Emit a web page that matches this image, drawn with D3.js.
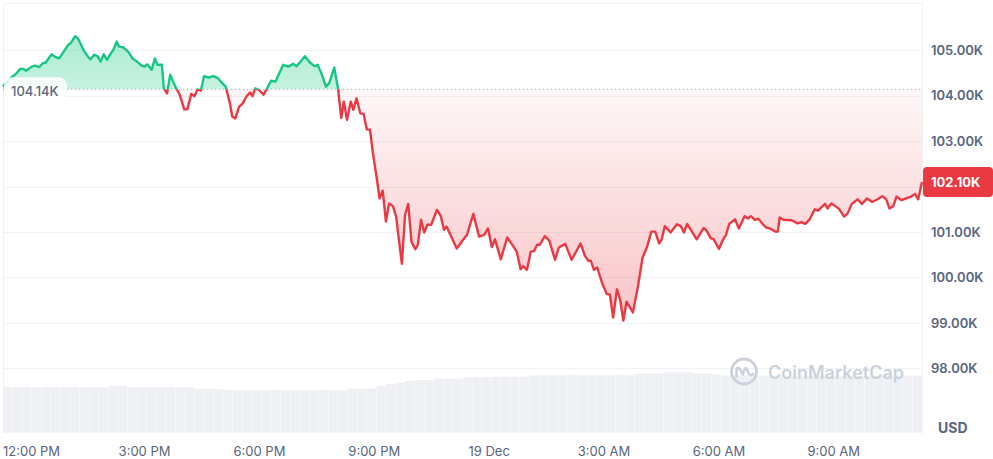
<!DOCTYPE html>
<html>
<head>
<meta charset="utf-8">
<script src="https://cdn.jsdelivr.net/npm/d3@7/dist/d3.min.js"></script>
<style>
html,body{margin:0;padding:0;background:#ffffff;}
svg{display:block;font-family:Inter,"Noto Sans",sans-serif;}
</style>
</head>
<body>
<svg id="chart" width="993" height="459"></svg>
<script>
// ---------------- DATA ----------------
const startDay = [2024, 11, 18];           // 18 Dec 2024
const rangeStart = "11:19";                 // 24h window start
const times = [
"11:19","11:28","11:40","11:46","11:51","11:55","12:04","12:09","12:16","12:21",
"12:26","12:35","12:40","12:47","12:56","13:01","13:05","13:12","13:17","13:25",
"13:31","13:36","13:42","13:47","13:52","13:57","14:02","14:08","14:12","14:17",
"14:21","14:28","14:35","14:42","14:49","14:56","15:01","15:05","15:12","15:17",
"15:21","15:28","15:31","15:36","15:41","15:49","15:56","16:03","16:08","16:14",
"16:19","16:24","16:29","16:34","16:41","16:49","16:56","17:03","17:08","17:15",
"17:18","17:23","17:29","17:34","17:41","17:46","17:50","17:54","18:00","18:07",
"18:12","18:19","18:26","18:38","18:46","18:54","18:59","19:04","19:12","19:20",
"19:27","19:32","19:38","19:45","19:50","19:58","20:04","20:09","20:13","20:18",
"20:24","20:28","20:33","20:39","20:44","20:49","20:54","20:59","21:05","21:09",
"21:14","21:19","21:24","21:30","21:35","21:44","21:49","21:54","21:59","22:05",
"22:09","22:14","22:19","22:24","22:30","22:39","22:45","22:50","22:54","23:10",
"23:20","23:26","23:36","23:45","23:53","23:59","00:05","00:10","00:19","00:29",
"00:36","00:44","00:50","00:54","01:00","01:06","01:11","01:16","01:20","01:28",
"01:35","01:44","01:50","02:00","02:10","02:24","02:31","02:36","02:40","02:45",
"02:50","02:58","03:05","03:10","03:15","03:21","03:26","03:31","03:36","03:46",
"03:54","04:01","04:08","04:15","04:21","04:27","04:31","04:36","04:45","04:55",
"05:01","05:06","05:11","05:26","05:37","05:42","05:48","05:52","06:01","06:07",
"06:12","06:17","06:26","06:32","06:41","06:46","06:51","06:57","07:03","07:09",
"07:15","07:21","07:29","07:33","07:36","07:42","07:55","08:04","08:10","08:16",
"08:23","08:31","08:36","08:47","08:51","08:57","09:03","09:09","09:17","09:22",
"09:29","09:38","09:45","09:53","10:01","10:08","10:17","10:23","10:28","10:34",
"10:39","10:47","10:54","11:02","11:08","11:13","11:19"
];
// BTC price, thousands of USD
const prices = [
104.20,104.35,104.49,104.59,104.59,104.55,104.64,104.66,104.63,104.71,
104.73,104.91,104.86,104.82,105.01,105.12,105.15,105.31,105.25,105.01,
104.88,104.80,104.90,104.87,104.75,104.91,104.79,104.93,105.01,105.19,
105.08,105.06,104.97,104.82,104.75,104.66,104.64,104.69,104.57,104.82,
104.68,104.68,104.16,104.05,104.46,104.20,104.02,103.70,103.70,104.04,
103.99,104.14,104.11,104.43,104.40,104.43,104.38,104.27,104.20,103.80,
103.55,103.50,103.76,103.82,103.99,104.07,103.99,104.16,104.13,104.02,
104.14,104.33,104.31,104.68,104.64,104.70,104.65,104.73,104.87,104.73,
104.65,104.68,104.49,104.20,104.27,104.62,104.15,103.51,103.87,103.47,
103.87,103.69,103.94,103.61,103.60,103.26,103.25,102.70,102.15,101.74,
101.91,101.23,101.63,101.57,101.34,100.30,101.38,101.62,100.79,100.62,
100.72,101.27,100.99,101.16,101.16,101.49,101.35,101.05,101.12,100.64,
100.83,100.94,101.40,100.90,100.94,101.08,100.67,100.84,100.40,100.88,
100.74,100.57,100.18,100.25,100.17,100.57,100.58,100.72,100.72,100.91,
100.81,100.39,100.66,100.74,100.39,100.75,100.47,100.37,100.37,100.17,
100.22,99.87,99.64,99.62,99.12,99.74,99.51,99.05,99.47,99.23,
99.81,100.43,100.67,101.01,101.01,100.75,100.83,101.13,100.99,101.17,
101.13,100.99,101.18,100.84,101.09,101.02,100.86,100.85,100.63,100.83,
100.94,101.18,101.28,101.08,101.35,101.30,101.35,101.27,101.29,101.18,
101.10,101.08,101.01,101.01,101.32,101.27,101.26,101.19,101.22,101.18,
101.28,101.50,101.47,101.62,101.52,101.63,101.57,101.51,101.34,101.40,
101.62,101.72,101.62,101.74,101.66,101.71,101.79,101.72,101.52,101.57,
101.78,101.70,101.74,101.78,101.84,101.72,102.10
];
const openPrice = 104.14;     // reference (24h ago) price, K USD
const lastPrice = 102.10;     // current price, K USD
// 24h rolling volume, billions USD, one bar per 15 minutes from rangeStart
const volumeStepMinutes = 15;
const volumes = [
82.1,82.1,82.1,82.1,82.1,82.1,82.1,82.1,82.1,82.1,82.1,
84.4,84.4,
82.1,82.1,82.1,82.1,82.1,82.1,82.1,
79.0,79.0,79.0,
77.2,77.2,77.2,77.2,77.2,77.2,77.2,77.2,77.2,77.2,77.2,77.2,77.2,
79.6,79.6,79.6,
84.4,88.1,90.4,93.5,95.3,95.3,
97.6,97.6,97.6,
100.2,100.2,100.2,
101.3,101.3,101.3,101.3,
103.8,103.8,103.8,103.8,103.8,103.8,103.8,103.8,103.8,103.8,103.8,
107.4,107.4,107.4,
109.2,109.2,109.2,
107.4,107.4,105.0,
103.1,103.1,103.1,103.1,103.1,103.1,103.1,103.1,103.1,103.1,103.1,
103.1,103.1,103.1,103.1,103.1,103.1,103.1,103.1,103.1,103.1
];
const priceTicks = [98, 99, 100, 101, 102, 103, 104, 105];
const currency = "USD";
const brand = "CoinMarketCap";

// ---------------- BUILD ----------------
const W = 993, H = 459;
const L = 3, R = 922, T = 3, B = 433;
const GREEN = "#16c784", RED = "#ea3943", TEXT = "#58667e", GRID = "#eff2f5";

const [sh, sm] = rangeStart.split(":").map(Number);
const t0 = new Date(startDay[0], startDay[1], startDay[2], sh, sm);
const t1 = d3.timeHour.offset(t0, 24);

let day = 0, prevMin = -1;
const n = Math.min(times.length, prices.length);
const data = [];
for (let i = 0; i < n; i++) {
  const [h, m] = times[i].split(":").map(Number);
  const mins = h * 60 + m;
  if (mins < prevMin) day++;
  prevMin = mins;
  data.push({date: new Date(startDay[0], startDay[1], startDay[2] + day, h, m), price: prices[i]});
}
const volData = volumes.map((v, i) => ({
  start: d3.timeMinute.offset(t0, i * volumeStepMinutes),
  end: d3.timeMinute.offset(t0, (i + 1) * volumeStepMinutes),
  v
}));

const x = d3.scaleTime().domain([t0, t1]).range([L, R]);
const y = d3.scaleLinear().domain([98, 105]).range([368.4, 50.25]);
const yVol = d3.scaleLinear().domain([0, 140]).range([432.7, 355.3]);

const svg = d3.select("#chart");
const defs = svg.append("defs");
const yBase = y(openPrice);
const yMin = y(d3.min(prices)), yMax = y(d3.max(prices));

defs.append("clipPath").attr("id", "above").append("rect")
  .attr("x", 0).attr("y", 0).attr("width", W).attr("height", yBase);
defs.append("clipPath").attr("id", "below").append("rect")
  .attr("x", 0).attr("y", yBase).attr("width", W).attr("height", H - yBase);

const gG = defs.append("linearGradient").attr("id", "gGreen")
  .attr("gradientUnits", "userSpaceOnUse").attr("x1", 0).attr("x2", 0).attr("y1", yMax).attr("y2", yBase);
gG.append("stop").attr("offset", 0).attr("stop-color", GREEN).attr("stop-opacity", 0.36);
gG.append("stop").attr("offset", 1).attr("stop-color", GREEN).attr("stop-opacity", 0.24);
const gR = defs.append("linearGradient").attr("id", "gRed")
  .attr("gradientUnits", "userSpaceOnUse").attr("x1", 0).attr("x2", 0).attr("y1", yBase).attr("y2", yMin);
gR.append("stop").attr("offset", 0).attr("stop-color", RED).attr("stop-opacity", 0.04);
gR.append("stop").attr("offset", 1).attr("stop-color", RED).attr("stop-opacity", 0.30);

// grid lines
svg.append("g").selectAll("line").data(priceTicks).join("line")
  .attr("x1", L).attr("x2", R)
  .attr("y1", d => Math.round(y(d)) + 0.5).attr("y2", d => Math.round(y(d)) + 0.5)
  .attr("stroke", GRID).attr("stroke-width", 1);

// frame
svg.append("path")
  .attr("d", `M${L + 0.5},${B} V${T + 0.5} H${R + 0.5} V${B}`)
  .attr("fill", "none").attr("stroke", GRID).attr("stroke-width", 1);

// volume bars
svg.append("g").selectAll("rect").data(volData).join("rect")
  .attr("x", d => x(d.start) + 0.2)
  .attr("width", d => Math.max(0, x(d.end) - x(d.start) - 0.4))
  .attr("y", d => yVol(d.v))
  .attr("height", d => yVol(0) - yVol(d.v))
  .attr("fill", "#eef0f4");

// watermark
const wm = svg.append("g").attr("transform", "translate(744,371.5)");
wm.append("circle").attr("r", 12.5).attr("fill", "none").attr("stroke", "#cbd1db").attr("stroke-width", 2.8);
wm.append("path")
  .attr("d", "M-7.5,5 L-7.5,0 Q-7.5,-6 -4.2,-2.5 L-1.2,3 Q1,-6 3,-2 L4.5,1.5 Q6.5,5.5 9,2.5")
  .attr("fill", "none").attr("stroke", "#cbd1db").attr("stroke-width", 2.6)
  .attr("stroke-linecap", "round").attr("stroke-linejoin", "round");
svg.append("text").attr("x", 768).attr("y", 378.5)
  .attr("font-size", 18).attr("font-weight", 600).attr("fill", "#cbd1db").text(brand);

// areas
const area = d3.area().x(d => x(d.date)).y0(yBase).y1(d => y(d.price));
svg.append("path").datum(data).attr("d", area).attr("fill", "url(#gGreen)").attr("clip-path", "url(#above)");
svg.append("path").datum(data).attr("d", area).attr("fill", "url(#gRed)").attr("clip-path", "url(#below)");

// baseline (open price)
svg.append("line").attr("x1", L).attr("x2", R).attr("y1", yBase).attr("y2", yBase)
  .attr("stroke", "#9aa3b5").attr("stroke-width", 1).attr("stroke-dasharray", "1.2 2.8");

// price line
const line = d3.line().x(d => x(d.date)).y(d => y(d.price));
svg.append("path").datum(data).attr("d", line).attr("fill", "none").attr("stroke", GREEN)
  .attr("stroke-width", 2.4).attr("stroke-linejoin", "round").attr("clip-path", "url(#above)");
svg.append("path").datum(data).attr("d", line).attr("fill", "none").attr("stroke", RED)
  .attr("stroke-width", 2.4).attr("stroke-linejoin", "round").attr("clip-path", "url(#below)");

// open price label
const ob = svg.append("g");
ob.append("rect").attr("x", 4).attr("y", yBase - 12).attr("width", 63).attr("height", 25).attr("rx", 8)
  .attr("fill", "#ffffff").attr("fill-opacity", 0.85);
ob.append("text").attr("x", 11).attr("y", yBase + 2).attr("dy", "0.35em")
  .attr("font-size", 13).attr("font-weight", 500).attr("fill", TEXT).text(openPrice.toFixed(2) + "K");

// right price axis
const yLast = y(lastPrice);
const yAxis = d3.axisRight(y)
  .tickValues(priceTicks.filter(t => Math.abs(y(t) - yLast) > 16))
  .tickFormat(d => d.toFixed(2) + "K").tickSize(0).tickPadding(9);
const ya = svg.append("g").attr("transform", `translate(${R},0)`).call(yAxis);
ya.select(".domain").remove();
ya.selectAll("text").attr("font-family", "Inter").attr("font-size", 13).attr("font-weight", 600).attr("fill", TEXT);

// current price tag
svg.append("rect").attr("x", R + 1).attr("y", yLast - 15).attr("width", W - R - 1).attr("height", 30).attr("rx", 4).attr("fill", RED);
svg.append("text").attr("x", R + 9).attr("y", yLast).attr("dy", "0.35em")
  .attr("font-size", 13).attr("font-weight", 700).attr("fill", "#ffffff").text(lastPrice.toFixed(2) + "K");

// bottom time axis
const fmt = d => (d.getHours() === 0 ? d3.timeFormat("%-d %b")(d) : d3.timeFormat("%-I:%M %p")(d));
const xAxis = d3.axisBottom(x).ticks(d3.timeHour.every(3)).tickFormat(fmt).tickSize(0).tickPadding(14);
const xa = svg.append("g").attr("transform", `translate(0,${B})`).call(xAxis);
xa.select(".domain").remove();
xa.selectAll("text").attr("font-family", "Inter").attr("font-size", 13).attr("font-weight", 400).attr("fill", TEXT)
  .each(function() {
    const bb = this.getBBox();
    const tx = +d3.select(this.parentNode).attr("transform").match(/translate\(([-\d.]+)/)[1];
    if (tx + bb.x < L) d3.select(this).attr("text-anchor", "start").attr("x", L - tx);
  });

// currency
svg.append("text").attr("x", 938).attr("y", 433).attr("font-size", 14).attr("font-weight", 700)
  .attr("fill", TEXT).text(currency);
</script>
</body>
</html>
